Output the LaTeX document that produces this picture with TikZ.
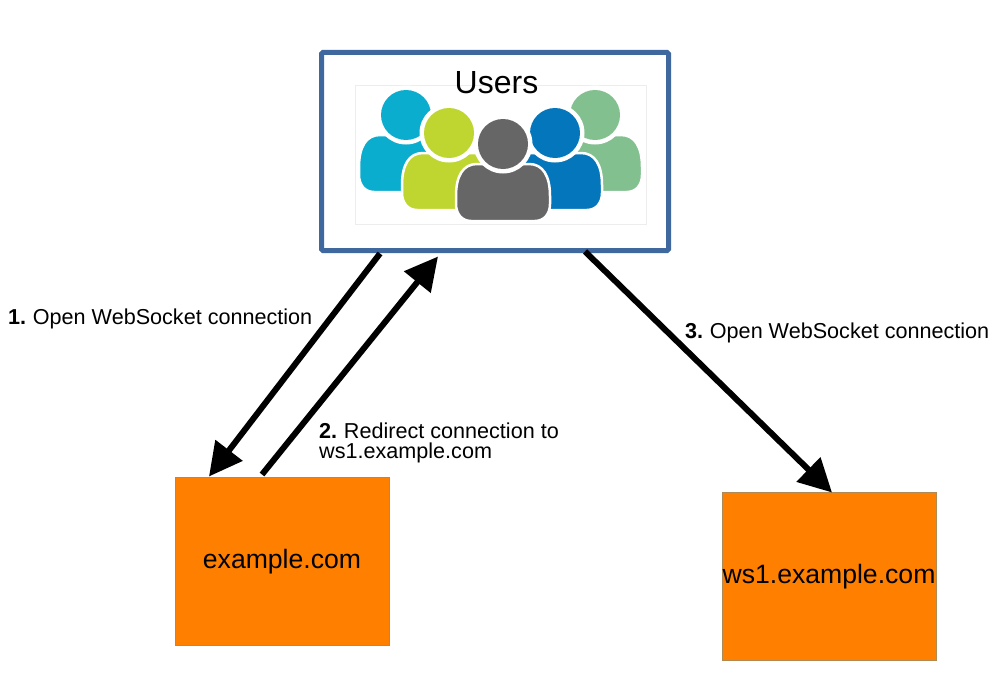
\documentclass[tikz,border=0pt]{standalone}
\usepackage{fontspec}
\setmainfont{Liberation Sans}
\usetikzlibrary{arrows.meta}
\definecolor{boxblue}{HTML}{3E689E}
\definecolor{boxorange}{HTML}{FF8000}
\definecolor{edgeorange}{HTML}{B08A55}
\definecolor{userteal}{HTML}{0BADCF}
\definecolor{userlime}{HTML}{BFD630}
\definecolor{usergray}{HTML}{666666}
\definecolor{userblue}{HTML}{0476BC}
\definecolor{usergreen}{HTML}{82C08F}
\newcommand{\person}[3]{
        \begin{scope}[shift={(#1,#2)}]
        \draw[fill=#3, draw=white, line width=2.5] (-47,-60) .. controls (-47,-70) and (-41,-77) .. (-32,-77) -- (32,-77) .. controls (41,-77) and (47,-70) .. (47,-60) -- (47,-52) .. controls (47,-32) and (40,-20) .. (26,-20) -- (-26,-20) .. controls (-40,-20) and (-47,-32) .. (-47,-52) -- cycle;
        \fill[white] (0,0) circle (29.5);
        \fill[#3] (0,0) circle (25);
        \end{scope}
}

\begin{document}
\begin{tikzpicture}[x=1pt, y=1pt, node distance={410pt},
    bluebox/.style = {shape=rectangle, draw=boxblue, line width=5, rounded corners=1.5, outer sep=0, minimum width=347, minimum height=198},
    orangebox/.style = {shape=rectangle, fill=boxorange, draw=edgeorange, line width=0.8, outer sep=0, minimum width=214, minimum height=168, inner sep=0, font=\fontsize{26.6}{30}\selectfont},
    msg/.style = {anchor=west, inner sep=0, align=left, font=\fontsize{21.6}{20}\selectfont},
    arrow/.style = {-{Triangle[length=33, width=33]}, line width=6}]
        \useasboundingbox (0,0) rectangle (995,-677);
        \node[bluebox] (users) at (495,-151.5) {};
        \node[orangebox] (example) [below of=users, xshift=-213] {example.com};
        \node[orangebox] (ws1) [below of=users, xshift=334, yshift=-15] {ws1.example.com};
        % icon
        \draw[black!7, line width=0.7] (355,-85) rectangle (646,-224);
        \person{406}{-115}{userteal}
        \person{595}{-115}{usergreen}
        \person{449}{-133}{userlime}
        \person{555}{-133}{userblue}
        \person{503}{-144}{usergray}
        \node[font=\fontsize{32}{36}\selectfont] (title) at (496.5,-83) {Users};
        \node[msg] (msg1) at (8,-319) {\textbf{1.}\hspace{-1.3pt} Open WebSocket connection};
        \node[msg] (msg2) at (319,-443) {\textbf{2.}\hspace{-1.3pt} Redirect connection to\\ws1.example.com};
        \node[msg] (msg3) at (685,-333) {\textbf{3.}\hspace{-1.3pt} Open WebSocket connection};
        \draw[arrow] ([xshift=58.5, yshift=-3]users.south west) -- ([xshift=34, yshift=1]example.north west);
        \draw[arrow] ([xshift=87, yshift=3]example.north west) -- ([xshift=116.5, yshift=-6]users.south west);
        \draw[arrow] ([xshift=263.5, yshift=-1]users.south west) -- ([xshift=110]ws1.north west);
    \end{tikzpicture}
\end{document}
